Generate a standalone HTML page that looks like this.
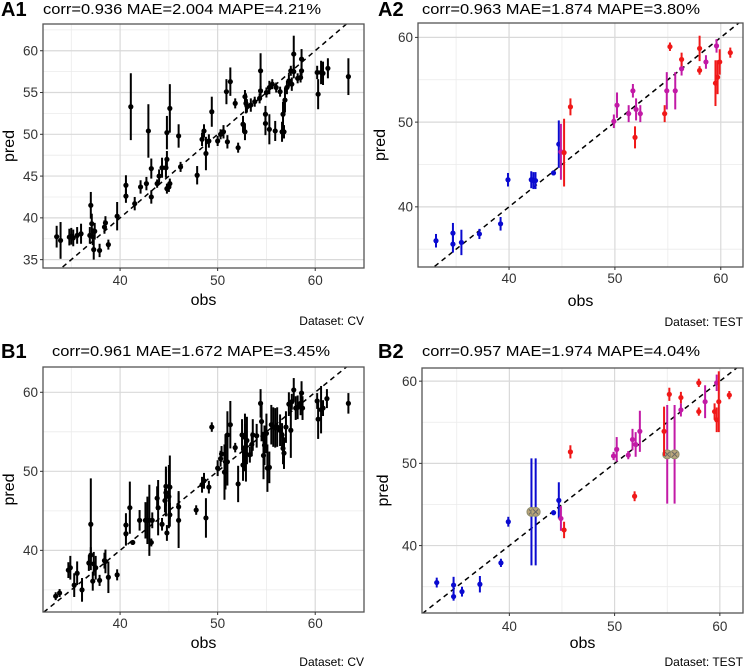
<!DOCTYPE html>
<html><head><meta charset="utf-8"><style>
html,body{margin:0;padding:0;background:#fff;}
svg{display:block;font-family:"Liberation Sans",Arial,sans-serif;}
</style></head><body>
<svg id="chart" width="750" height="669" viewBox="0 0 750 669" xmlns="http://www.w3.org/2000/svg"></svg>
<script>
// ---- data: [obs, pred, halfErr] ----
const a1Points = [[33.5,37.75,1.3],[33.9,37.3,2.2],[34.8,37.7,1],[35.0,37.8,1],[35.2,37.6,1],[35.6,37.9,1],[36.0,38.1,1.2],[36.9,37.9,1],[37.0,41.5,1.6],[37.1,39.3,1.2],[37.2,37.75,1],[37.3,36.2,1.2],[37.4,38.4,1],[37.9,36.1,0.8],[38.4,38.9,0.8],[38.5,39.4,0.8],[38.8,36.8,0.6],[39.7,40.2,1.7],[40.6,43.9,1.2],[40.6,42.6,0.8],[41.1,53.3,4],[41.5,41.7,0.8],[42.1,43.7,0.8],[42.7,44.1,0.8],[42.9,50.4,3.2],[43.2,45.9,1.2],[43.2,42.5,0.8],[43.8,44.1,0.5],[44.0,45.0,0.8],[44.3,46.0,1.2],[44.7,46.0,1.2],[44.8,47.0,1],[44.8,50.2,2],[44.8,43.5,0.6],[45.0,43.7,0.6],[45.1,53.1,2.9],[45.1,44.1,0.6],[46.0,49.8,1.4],[46.2,46.1,0.6],[47.9,45.1,1.1],[48.4,49.4,0.8],[48.6,50.4,0.8],[48.8,47.7,2],[49.1,49.2,0.8],[49.4,52.7,1.8],[50.0,49.2,0.6],[50.3,50.0,0.6],[50.6,50.3,0.8],[50.9,55.1,1.5],[51.0,49.1,0.8],[51.3,56.3,1.7],[51.8,53.7,0.6],[52.1,48.4,0.6],[52.6,51.2,1],[52.8,54.5,0.8],[52.8,50.3,1],[52.9,53.7,1.2],[53.0,53.4,0.8],[53.4,53.5,0.8],[53.8,53.9,0.6],[54.3,54.3,0.6],[54.4,57.6,2.1],[54.4,55.2,0.6],[54.9,51.3,1.4],[54.9,52.4,1],[55.0,55.0,0.6],[55.3,55.6,0.8],[55.3,50.6,1.8],[55.6,56.0,0.6],[55.9,50.4,1.2],[56.0,55.6,0.6],[56.4,55.1,0.6],[56.6,50.3,1.2],[56.7,52.4,1.5],[56.8,50.3,0.8],[56.9,54.1,1.5],[57.1,55.6,0.8],[57.3,56.4,0.8],[57.5,57.6,0.6],[57.6,56.0,0.8],[57.8,59.6,2.2],[57.8,57.5,0.8],[58.2,56.7,0.6],[58.5,56.8,0.6],[58.6,57.6,1],[58.6,59.0,1.2],[60.2,57.4,0.8],[60.3,54.8,1.8],[60.6,57.4,1.4],[60.8,57.3,1.4],[61.3,57.9,1.2],[63.4,56.9,2.2]];
const b1Points = [[33.4,34.2,0.5],[33.8,34.6,0.5],[34.7,37.5,1],[34.9,37.8,1.5],[35.3,35.6,1.5],[35.6,37.1,1.5],[36.1,35.0,1.5],[36.8,38.4,1],[37.0,43.3,5.8],[37.0,39.4,1],[37.2,36.1,1.2],[37.3,38.3,1.5],[37.5,37.8,1.5],[37.9,36.2,0.7],[38.4,38.7,1],[38.5,38.6,1.5],[38.8,36.6,2],[39.7,36.9,0.7],[40.6,43.2,1.5],[40.6,42.1,1.5],[41.0,45.4,3.3],[41.3,41.0,0.3],[42.0,43.8,1.3],[42.6,43.8,2.3],[42.8,43.8,3],[43.0,43.8,4.5],[43.2,41.0,0.5],[43.3,43.8,1],[43.8,46.6,1.5],[43.9,45.4,3.5],[44.3,43.3,0.8],[44.6,46.3,1.5],[44.7,48.1,2.5],[44.7,47.3,3],[44.8,42.2,1],[45.0,46.8,4],[45.1,44.5,1.5],[45.1,48.0,4],[46.0,45.5,2],[46.0,43.8,3.5],[47.8,45.1,0.6],[48.4,48.3,1],[48.6,48.8,1],[48.8,44.1,2.5],[49.1,48.0,0.8],[49.4,55.6,0.6],[50.0,50.4,1],[50.3,51.6,1],[50.4,52.2,1],[50.7,49.9,3.5],[50.8,51.2,3.5],[51.0,54.6,3],[51.0,51.2,3],[51.3,55.9,3],[51.8,53.0,0.6],[52.1,48.4,2.3],[52.5,54.6,2],[52.6,50.8,2],[52.8,54.3,3],[52.8,53.0,3],[52.9,52.2,3.5],[53.0,53.9,3],[53.3,52.1,1],[53.5,53.4,1.5],[53.6,54.6,2],[54.0,54.5,1.5],[54.4,58.6,1.8],[54.5,56.3,2.5],[54.7,52.0,3],[54.8,53.3,2.5],[55.0,54.8,2.5],[55.1,50.4,3],[55.3,50.5,2],[55.5,55.9,2.5],[55.7,55.6,2.5],[55.9,55.5,2.5],[56.1,55.6,2.5],[56.4,55.2,2],[56.6,54.6,1.5],[56.7,52.9,2],[56.8,52.3,2],[57.0,55.6,2],[57.3,58.5,1.5],[57.5,55.2,3.5],[57.6,58.8,1],[57.8,60.3,1.5],[58.0,58.0,1.5],[58.2,58.1,1.5],[58.5,58.6,1.5],[58.6,59.9,1.5],[58.7,58.0,1.5],[60.2,58.9,1],[60.3,56.6,2.5],[60.6,57.8,3],[60.8,58.0,1],[61.2,59.2,1.2],[63.4,58.6,1.3]];
// test-set groups: [obs, pred, halfErr, group(0 blue,1 purple,2 red), flagged]
const a2Points = [[33.1,36.0,0.8,0],[34.7,36.9,1.2,0],[34.7,35.6,1,0],[35.5,35.8,1.5,0],[37.2,36.8,0.6,0],[39.2,38.0,0.8,0],[39.9,43.2,0.8,0],[42.1,43.2,1,0],[42.3,43.1,1,0],[42.5,43.1,1,0],[44.2,44.0,0.3,0],[44.7,47.4,2.8,0],[44.9,46.5,3.3,1],[49.9,50.1,0.8,1],[50.2,52.0,1.5,1],[51.3,51.0,1,1],[51.7,53.7,0.8,1],[52.0,51.5,1.3,1],[52.4,51.0,1,1],[54.9,53.7,2.2,1],[55.7,53.7,2.2,1],[56.3,56.3,0.8,1],[58.6,57.1,0.8,1],[59.6,59.0,0.8,1],[45.2,46.4,4,2],[45.8,51.8,1,2],[54.7,51.0,1,2],[51.9,48.2,1.3,2],[55.2,58.9,0.5,2],[56.3,57.4,0.8,2],[58.0,58.7,1.5,2],[58.0,56.1,0.5,2],[59.5,54.6,2.7,2],[59.7,55.3,2,2],[59.9,57.1,1.5,2],[60.9,58.2,0.6,2]];
const b2Points = [[33.1,35.5,0.6,0,0],[34.7,35.2,1,0,0],[34.7,33.8,0.5,0,0],[35.5,34.4,0.6,0,0],[37.2,35.3,1,0,0],[39.2,37.9,0.5,0,0],[39.9,42.9,0.6,0,0],[42.1,44.1,6.5,0,1],[42.5,44.1,6.5,0,1],[44.2,44.0,0.3,0,0],[44.7,45.5,2.2,0,0],[44.9,43.3,1.5,1,0],[49.9,50.9,0.5,1,0],[50.2,51.7,1.5,1,0],[51.3,51.0,0.5,1,0],[51.7,52.9,1.3,1,0],[52.0,52.3,1.5,1,0],[52.4,53.9,2.5,1,0],[55.0,51.1,6,1,1],[55.7,51.1,6,1,1],[56.3,56.5,0.8,1,0],[58.6,57.5,2,1,0],[59.7,59.8,1,1,0],[45.2,41.9,1,2,0],[45.8,51.4,0.8,2,0],[51.9,46.0,0.6,2,0],[54.7,53.9,3,2,0],[55.2,58.4,0.8,2,0],[56.3,58.0,0.7,2,0],[58.0,59.8,0.5,2,0],[58.0,56.3,0.5,2,0],[59.5,56.3,1,2,0],[59.7,55.3,1.5,2,0],[59.9,57.5,3.7,2,0],[60.9,58.3,0.5,2,0]];
const a1YTicks = [35,40,45,50,55,60];
const otherYTicks = [40,50,60];
const xTicks = [40,50,60];
const groupColors = ["#0a0ad0","#c21aa6","#f01818"];

const svg = document.getElementById('chart');
const NS = 'http://www.w3.org/2000/svg';
function mk(tag, attrs, parent, text){
  const e = document.createElementNS(NS, tag);
  for (const k in attrs) e.setAttribute(k, attrs[k]);
  if (text !== undefined) e.textContent = text;
  (parent||svg).appendChild(e);
  return e;
}

function panel(cfg){
  const g = mk('g', {});
  
  
  const sx = v => cfg.x0 + (v - cfg.xd[0]) / (cfg.xd[1]-cfg.xd[0]) * (cfg.x1-cfg.x0);
  const sy = v => cfg.y1 - (v - cfg.yd[0]) / (cfg.yd[1]-cfg.yd[0]) * (cfg.y1-cfg.y0);
  mk('rect', {x:cfg.x0,y:cfg.y0,width:cfg.x1-cfg.x0,height:cfg.y1-cfg.y0,fill:'#fff'}, g);
  const clipId = 'clip-' + cfg.id;
  const cp = mk('clipPath', {id:clipId}, g);
  mk('rect', {x:cfg.x0,y:cfg.y0,width:cfg.x1-cfg.x0,height:cfg.y1-cfg.y0}, cp);
  const grid = mk('g', {'clip-path':'url(#'+clipId+')'}, g);
  const mx = [30,35,45,55,65];
  mx.forEach(v => { const x = sx(v); mk('line',{x1:x,x2:x,y1:cfg.y0,y2:cfg.y1,stroke:'#ebebeb','stroke-width':0.8},grid); });
  const ytk = cfg.yTicks;
  const step = ytk[1]-ytk[0];
  for (let v = ytk[0]-step*1.5; v <= ytk[ytk.length-1]+step; v += step) { const y = sy(v); mk('line',{x1:cfg.x0,x2:cfg.x1,y1:y,y2:y,stroke:'#ebebeb','stroke-width':0.8},grid); }
  xTicks.forEach(v => { const x = sx(v); mk('line',{x1:x,x2:x,y1:cfg.y0,y2:cfg.y1,stroke:'#d9d9d9','stroke-width':1.2},grid); });
  ytk.forEach(v => { const y = sy(v); mk('line',{x1:cfg.x0,x2:cfg.x1,y1:y,y2:y,stroke:'#d9d9d9','stroke-width':1.2},grid); });
  const idl = mk('line',{x1:sx(25),y1:sy(25),x2:sx(70),y2:sy(70),stroke:'#000','stroke-width':1.5,'stroke-dasharray':'5,4'},grid);
  
  
  cfg.points.forEach(p => {
    const col = p.length > 3 ? groupColors[p[3]] : '#000';
    const bar = mk('line',{x1:sx(p[0]),x2:sx(p[0]),y1:sy(p[1]-p[2]),y2:sy(p[1]+p[2]),stroke:col,'stroke-width':2},grid);
    
    
    const dot = mk('circle',{cx:sx(p[0]),cy:sy(p[1]),r:2.6,fill:col},grid);
    
    
    if (p[4]) {
      const m = mk('circle',{cx:sx(p[0]),cy:sy(p[1]),r:4.5,fill:'#b9a57a',stroke:'#8c8c6c','stroke-width':1},grid);
      
      
      mk('path',{d:`M${sx(p[0])-2.5},${sy(p[1])-2.5}l5,5M${sx(p[0])-2.5},${sy(p[1])+2.5}l5,-5`,stroke:'#666','stroke-width':1},grid);
    }
  });
  const bd = mk('rect',{x:cfg.x0,y:cfg.y0,width:cfg.x1-cfg.x0,height:cfg.y1-cfg.y0,fill:'none',stroke:'#555','stroke-width':1.3},g);
  
  
  xTicks.forEach(v => {
    mk('line',{x1:sx(v),x2:sx(v),y1:cfg.y1,y2:cfg.y1+3,stroke:'#333'},g);
    const t = mk('text',{x:sx(v),y:cfg.xLabY,'text-anchor':'middle','font-size':13.5,fill:'#333'},g,String(v));
    
    
  });
  ytk.forEach(v => {
    mk('line',{x1:cfg.x0-3,x2:cfg.x0,y1:sy(v),y2:sy(v),stroke:'#333'},g);
    const t = mk('text',{x:cfg.x0-5,y:sy(v)+4.7,'text-anchor':'end','font-size':13.5,fill:'#333'},g,String(v));
    
    
  });
  const xt = mk('text',{x:(cfg.x0+cfg.x1)/2,y:cfg.obsY,'text-anchor':'middle','font-size':16,fill:'#000'},g,'obs');
  
  
  const yc = (cfg.y0+cfg.y1)/2;
  const yt = mk('text',{x:cfg.predX,y:yc,'text-anchor':'middle','font-size':16,fill:'#000',transform:`rotate(-90 ${cfg.predX} ${yc})`},g,'pred');
  
  
  const lb = mk('text',{x:cfg.labX,y:cfg.titleY+2,'font-size':20,'font-weight':'bold',fill:'#000'},g,cfg.label);
  
  
  const tt = mk('text',{x:cfg.titleX,y:cfg.titleY,'font-size':15,fill:'#000',textLength:278,lengthAdjust:'spacingAndGlyphs'},g,cfg.title);
  
  
  const cap = mk('text',{x:cfg.x1,y:cfg.capY,'text-anchor':'end','font-size':12,fill:'#000'},g,cfg.caption);
  
  
}

panel({id:'a1',label:'A1',title:'corr=0.936 MAE=2.004 MAPE=4.21%',caption:'Dataset: CV',x0:43,x1:364,y0:24,y1:268,xd:[32.1,65.0],yd:[34.0,63.2],yTicks:a1YTicks,points:a1Points,xLabY:285,obsY:305,predX:14,labX:1,titleX:43,titleY:14,capY:325});
panel({id:'a2',label:'A2',title:'corr=0.963 MAE=1.874 MAPE=3.80%',caption:'Dataset: TEST',x0:418,x1:743,y0:23,y1:267,xd:[31.4,62.1],yd:[32.9,61.7],yTicks:otherYTicks,points:a2Points,xLabY:283,obsY:306,predX:385,labX:378,titleX:422,titleY:14,capY:326});
panel({id:'b1',label:'B1',title:'corr=0.961 MAE=1.672 MAPE=3.45%',caption:'Dataset: CV',x0:43,x1:364,y0:367,y1:612,xd:[32.1,65.0],yd:[32.2,63.2],yTicks:otherYTicks,points:b1Points,xLabY:628,obsY:648,predX:14,labX:1,titleX:52,titleY:356,capY:666});
panel({id:'b2',label:'B2',title:'corr=0.957 MAE=1.974 MAPE=4.04%',caption:'Dataset: TEST',x0:422,x1:743,y0:368,y1:613,xd:[31.7,62.2],yd:[31.8,61.6],yTicks:otherYTicks,points:b2Points,xLabY:631,obsY:648,predX:388,labX:378,titleX:422,titleY:356,capY:666});
</script>
</body></html>
